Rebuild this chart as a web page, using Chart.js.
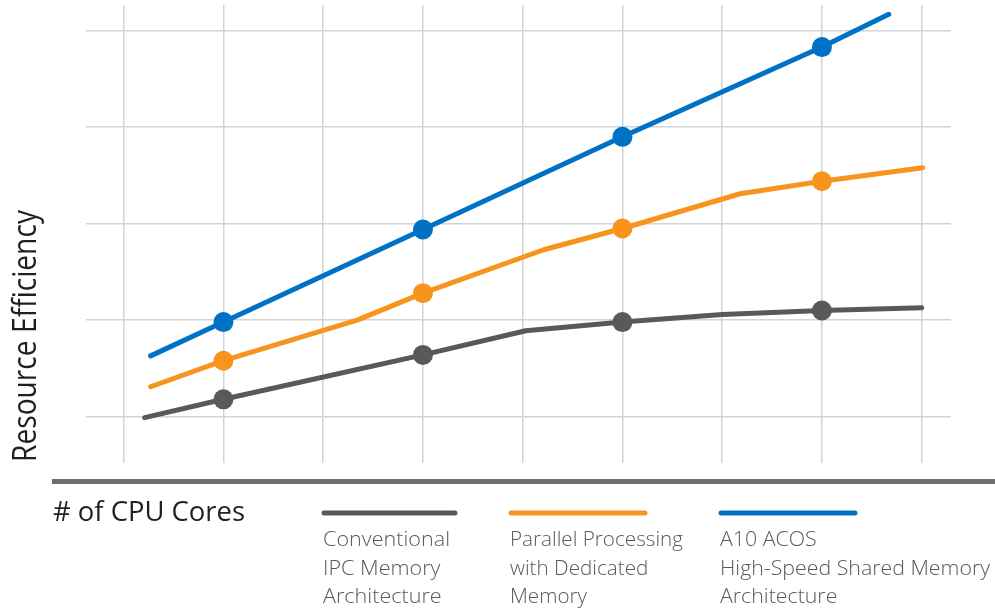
<!DOCTYPE html>
<html>
<head>
<meta charset="utf-8">
<script src="https://cdn.jsdelivr.net/npm/chart.js@4"></script>
<style>
  html, body { margin: 0; padding: 0; background: #fff; }
  #wrap { width: 995px; height: 611px; position: relative; }
</style>
</head>
<body>
<div id="wrap"><canvas id="myChart" width="995" height="611"></canvas></div>
<script>
// x in grid units (each vertical grid line = one step), y in grid units too
var grayX   = [1.21, 2, 4, 5.03, 6, 7, 8, 9];
var grayY   = [0.99, 1.18, 1.64, 1.89, 1.98, 2.06, 2.10, 2.13];
var orangeX = [1.27, 2, 3.34, 4, 5.21, 6, 7.18, 8, 9.01];
var orangeY = [1.31, 1.58, 2.00, 2.28, 2.73, 2.95, 3.31, 3.44, 3.58];
var blueX   = [1.27, 2, 4, 6, 8, 8.67];
var blueY   = [1.63, 1.98, 2.94, 3.90, 4.83, 5.17];

var xGrid = [1, 2, 3, 4, 5, 6, 7, 8, 9];
var yGrid = [1, 2, 3, 4, 5];

var seriesNames = [
  ['Conventional', 'IPC Memory', 'Architecture'],
  ['Parallel Processing', 'with Dedicated', 'Memory'],
  ['A10 ACOS', 'High-Speed Shared Memory', 'Architecture']
];
var xTitle = '# of CPU Cores';
var yTitle = 'Resource Efficiency';

var colors = ['#58595b', '#f7941d', '#0072c6'];

function pts(xs, ys) {
  var out = [];
  for (var i in xs) out.push({x: xs[i], y: ys[i]});
  return out;
}

function mkSet(xs, ys, c) {
  return {
    data: pts(xs, ys),
    borderColor: c,
    backgroundColor: c,
    borderWidth: 5,
    borderCapStyle: 'round',
    borderJoinStyle: 'round',
    tension: 0,
    pointBorderWidth: 0,
    pointRadius: function(ctx) { return ctx.raw && ctx.raw.x % 2 === 0 ? 10 : 0; },
    pointHoverRadius: function(ctx) { return ctx.raw && ctx.raw.x % 2 === 0 ? 10 : 0; }
  };
}

// draw text fitted to a target width, cap height sets the font size
function fitText(ctx, txt, x, y, cap, width, color, weight) {
  var size = cap / 0.714;
  ctx.save();
  ctx.font = (weight || 400) + ' ' + size + 'px "Open Sans", sans-serif';
  ctx.fillStyle = color;
  ctx.textBaseline = 'alphabetic';
  var w = ctx.measureText(txt).width;
  ctx.translate(x, y);
  ctx.scale(width / w, 1);
  ctx.fillText(txt, 0, 0);
  ctx.restore();
}

var extras = {
  id: 'extras',
  afterDraw: function(chart) {
    var ctx = chart.ctx;
    // bottom axis bar
    ctx.save();
    ctx.fillStyle = '#6d6e71';
    ctx.fillRect(52, 479, 943, 5);
    ctx.restore();

    // y title, rotated
    ctx.save();
    ctx.translate(36, 462);
    ctx.rotate(-Math.PI / 2);
    fitText(ctx, yTitle, 0, 0, 23, 252, '#231f20', 400);
    ctx.restore();

    fitText(ctx, xTitle, 53, 521, 19.5, 192, '#231f20', 400);

    // legend
    var lx = [[322, 457], [509, 647], [719, 857]];
    var widths = [[127], [173], [270]];
    var widest = [0, 0, 1];
    for (var i = 0; i < 3; i++) {
      ctx.save();
      ctx.strokeStyle = colors[i];
      ctx.lineWidth = 5;
      ctx.lineCap = 'round';
      ctx.beginPath();
      ctx.moveTo(lx[i][0] + 2, 513);
      ctx.lineTo(lx[i][1] - 2, 513);
      ctx.stroke();
      ctx.restore();

      // one horizontal scale per block, from its widest line
      ctx.save();
      var size = 15 / 0.714;
      ctx.font = '300 ' + size + 'px "Open Sans", sans-serif';
      var ref = ctx.measureText(seriesNames[i][widest[i]]).width;
      var sx = widths[i][0] / ref;
      ctx.fillStyle = '#58595b';
      for (var j = 0; j < 3; j++) {
        ctx.save();
        ctx.translate(lx[i][0] + 1, 546 + j * 28.7);
        ctx.scale(sx, 1);
        ctx.fillText(seriesNames[i][j], 0, 0);
        ctx.restore();
      }
      ctx.restore();
    }
  }
};

var gridOpts = {
  color: '#d1d3d4',
  lineWidth: 1.5,
  drawTicks: false
};

var ctx = document.getElementById('myChart').getContext('2d');
var chart = new Chart(ctx, {
  type: 'line',
  data: {
    datasets: [
      mkSet(grayX, grayY, colors[0]),
      mkSet(orangeX, orangeY, colors[1]),
      mkSet(blueX, blueY, colors[2])
    ]
  },
  options: {
    responsive: false,
    animation: false,
    events: [],
    layout: { padding: { left: 86, top: 5, right: 44, bottom: 148 } },
    plugins: { legend: { display: false }, tooltip: { enabled: false } },
    scales: {
      x: {
        type: 'linear',
        min: 0.622,
        max: 9.294,
        grid: gridOpts,
        border: { display: false },
        ticks: { display: false },
        afterBuildTicks: function(axis) { axis.ticks = xGrid.map(function(v) { return {value: v}; }); }
      },
      y: {
        type: 'linear',
        min: 0.52,
        max: 5.266,
        grid: gridOpts,
        border: { display: false },
        ticks: { display: false },
        afterBuildTicks: function(axis) { axis.ticks = yGrid.map(function(v) { return {value: v}; }); }
      }
    }
  },
  plugins: [extras]
});
</script>
</body>
</html>
